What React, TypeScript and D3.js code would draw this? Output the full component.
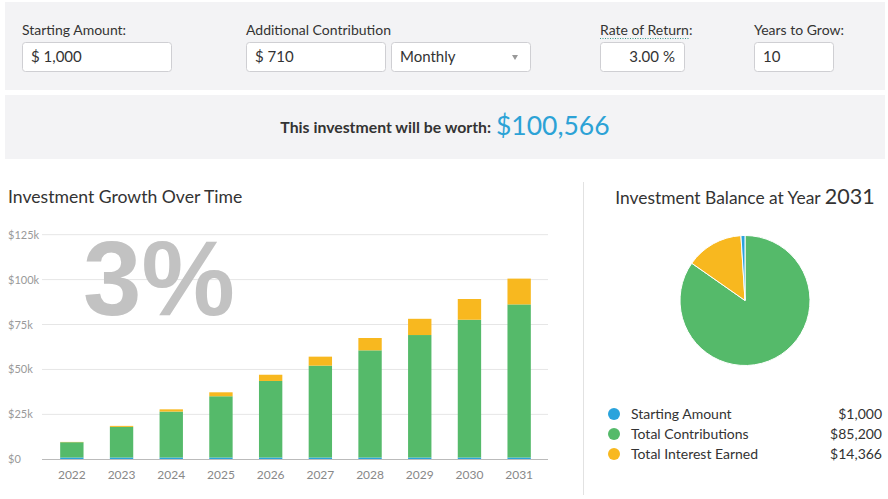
import React from "react";
import * as d3 from "d3";

const years = ["2022", "2023", "2024", "2025", "2026", "2027", "2028", "2029", "2030", "2031"];
const startingAmount = [1000, 1000, 1000, 1000, 1000, 1000, 1000, 1000, 1000, 1000];
const contributions = [8520, 17040, 25560, 34080, 42600, 51120, 59640, 68160, 76680, 85200];
const interest = [150, 560, 1245, 2210, 3460, 5010, 6866, 9037, 11534, 14366];
const yTicks = [0, 25000, 50000, 75000, 100000, 125000];
const yTickLabels = ["$0", "$25k", "$50k", "$75k", "$100k", "$125k"];
const pieLabels = ["Total Contributions", "Total Interest Earned", "Starting Amount"];
const pieValues = [85200, 14366, 1000];
const legendLabels = ["Starting Amount", "Total Contributions", "Total Interest Earned"];
const legendValues = ["$1,000", "$85,200", "$14,366"];

const COLORS: Record<string, string> = {
  start: "#2aa3dc",
  contrib: "#55ba6a",
  interest: "#f8b81f",
};
const FONT = "Lato, 'Open Sans', sans-serif";

export default function App() {
  const x = d3.scaleBand<string>().domain(years).range([47, 544]).paddingInner(0.53).paddingOuter(0.265);
  const y = d3.scaleLinear().domain([0, 125000]).range([459.3, 234.7]);

  const rows = years.map((yr, i) => ({
    year: yr,
    start: startingAmount[i],
    contrib: contributions[i],
    interest: interest[i],
  }));
  const stack = d3.stack<any>().keys(["start", "contrib", "interest"]);
  const series = stack(rows);

  const pieData = d3.pie<number>().sort(null).value((d) => d)(pieValues);
  const arc = d3.arc<d3.PieArcDatum<number>>().innerRadius(0).outerRadius(65);
  const pieColors = [COLORS.contrib, COLORS.interest, COLORS.start];
  const legendColors = [COLORS.start, COLORS.contrib, COLORS.interest];

  return (
    <svg width={888} height={499} style={{ position: "absolute", left: 0, top: 0, background: "#fff" }} fontFamily={FONT}>
      {/* Top input panel */}
      <rect x={5} y={2} width={880} height={88} fill="#f3f3f5" />
      <text x={22} y={35} fontSize={14} fill="#333">Starting Amount:</text>
      <rect x={22.5} y={42.5} width={149} height={29} rx={3} fill="#fff" stroke="#cfcfd3" />
      <text x={31} y={62} fontSize={15} fill="#333">$ 1,000</text>

      <text x={246} y={35} fontSize={14} fill="#333">Additional Contribution</text>
      <rect x={246.5} y={42.5} width={139} height={29} rx={3} fill="#fff" stroke="#cfcfd3" />
      <text x={255} y={62} fontSize={15} fill="#333">$ 710</text>
      <rect x={391.5} y={42.5} width={139} height={29} rx={3} fill="#fff" stroke="#cfcfd3" />
      <text x={400} y={62} fontSize={15} fill="#333">Monthly</text>
      <path d="M512,55 L518,55 L515,60 Z" fill="#999" />

      <text x={600} y={35} fontSize={14} fill="#333">Rate of Return:</text>
      <line x1={600} y1={38.5} x2={690} y2={38.5} stroke="#3a9a8a" strokeDasharray="1,1.5" />
      <rect x={600.5} y={42.5} width={84} height={29} rx={3} fill="#fff" stroke="#cfcfd3" />
      <text x={659} y={62} fontSize={15} fill="#333" textAnchor="end">3.00</text>
      <text x={675} y={62} fontSize={15} fill="#333" textAnchor="end">%</text>

      <text x={754} y={35} fontSize={14} fill="#333">Years to Grow:</text>
      <rect x={754.5} y={42.5} width={79} height={29} rx={3} fill="#fff" stroke="#cfcfd3" />
      <text x={763} y={62} fontSize={15} fill="#333">10</text>

      {/* Result panel */}
      <rect x={5} y={95} width={880} height={64} fill="#f3f3f5" />
      <text x={491} y={133} fontSize={15.8} fontWeight={700} fill="#333" textAnchor="end">This investment will be worth:</text>
      <text x={496} y={135} fontSize={26.5} fill="#2ca2d6">$100,566</text>

      {/* Bar chart */}
      <text x={8} y={203} fontSize={17.6} fill="#333">Investment Growth Over Time</text>
      {yTicks.map((t, i) => (
        <g key={t}>
          {i > 0 && <line x1={42} x2={548} y1={y(t)} y2={y(t)} stroke="#e6e6e6" />}
          <text x={8} y={y(t) + 4} fontSize={11} fill="#999">{yTickLabels[i]}</text>
        </g>
      ))}
      <text x={83} y={315} fontSize={105} fontWeight={700} fill="#c2c2c2" fontFamily="'Liberation Sans', Arial, sans-serif">3%</text>
      {series.map((s) => (
        <g key={s.key} fill={COLORS[s.key]}>
          {s.map((d, i) => (
            <rect key={i} x={x(years[i])} width={x.bandwidth()} y={y(d[1])} height={y(d[0]) - y(d[1])} />
          ))}
        </g>
      ))}
      <line x1={42} x2={548} y1={459.5} y2={459.5} stroke="#bbb" />
      {years.map((yr) => (
        <text key={yr} x={(x(yr) as number) + x.bandwidth() / 2} y={479} fontSize={12} fill="#888" textAnchor="middle">{yr}</text>
      ))}

      {/* Divider */}
      <line x1={583.5} x2={583.5} y1={182} y2={495} stroke="#e2e2e2" />

      {/* Pie */}
      <text x={745} y={204} fontSize={17.4} fill="#333" textAnchor="middle">
        Investment Balance at Year <tspan fontSize={21.5}>2031</tspan>
      </text>
      <g transform="translate(745,300.5)">
        {pieData.map((d, i) => (
          <path key={pieLabels[i]} d={arc(d) as string} fill={pieColors[i]} stroke="#fff" strokeWidth={1} />
        ))}
      </g>

      {legendLabels.map((l, i) => (
        <g key={l} transform={`translate(0,${414 + i * 20})`}>
          <circle cx={614} cy={0} r={6} fill={legendColors[i]} />
          <text x={631} y={5} fontSize={14} fill="#333">{l}</text>
          <text x={882} y={5} fontSize={14} fill="#333" textAnchor="end">{legendValues[i]}</text>
        </g>
      ))}
    </svg>
  );
}
